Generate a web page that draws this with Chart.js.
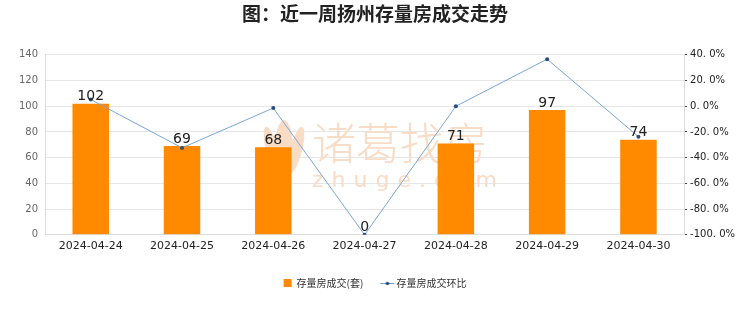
<!DOCTYPE html>
<html>
<head>
<meta charset="utf-8">
<script src="https://cdn.jsdelivr.net/npm/chart.js@4/dist/chart.umd.min.js"></script>
<style>
  html, body { margin: 0; padding: 0; background: #fff; }
  #wrap { width: 740px; height: 312px; position: relative; }
</style>
</head>
<body>
<div id="wrap"><canvas id="c" width="740" height="312"></canvas></div>
<script>
// 数据
const dates = ['2024-04-24', '2024-04-25', '2024-04-26', '2024-04-27', '2024-04-28', '2024-04-29', '2024-04-30'];
const deals = [102, 69, 68, 0, 71, 97, 74];
const dealRatio = [5.2, -32.4, -1.4, -100, 0, 36.6, -23.7];
const leftTicks = [0, 20, 40, 60, 80, 100, 120, 140];
const rightTicks = [-100, -80, -60, -40, -20, 0, 20, 40];

const FONT = 'DejaVu Sans';
const CJK = '"Noto Sans CJK SC"';
const WM = '#f9dcc6';

// 图例用的线+点图标
function lineIcon() {
  const cv = document.createElement('canvas');
  cv.width = 16; cv.height = 8;
  const g = cv.getContext('2d');
  g.strokeStyle = '#6f9fd8';
  g.lineWidth = 1;
  g.beginPath(); g.moveTo(1, 4.5); g.lineTo(15, 4.5); g.stroke();
  g.fillStyle = '#2c4d7a';
  g.beginPath(); g.arc(8, 4.5, 1.8, 0, Math.PI * 2); g.fill();
  return cv;
}

// 水印
const watermark = {
  id: 'watermark',
  beforeDatasetsDraw(chart) {
    const ctx = chart.ctx;
    ctx.save();
    ctx.fillStyle = WM;
    // 莲花标志（大部分被柱子遮住）
    [[284, 148, 9, 28, 0], [296, 150, 6, 24, 0.25], [272, 150, 6, 24, -0.25]].forEach(p => {
      ctx.beginPath();
      ctx.ellipse(p[0], p[1], p[2], p[3], p[4], 0, Math.PI * 2);
      ctx.fill();
    });
    ctx.textAlign = 'left';
    ctx.textBaseline = 'middle';
    ctx.font = '300 44px ' + CJK;
    ctx.fillText('诸葛找房', 312, 143);
    ctx.font = '22px ' + FONT;
    ctx.letterSpacing = '8px';
    ctx.fillText('zhuge.com', 312, 181);
    ctx.restore();
  }
};

// 柱顶数值
const barLabels = {
  id: 'barLabels',
  afterDatasetsDraw(chart) {
    const ctx = chart.ctx;
    const meta = chart.getDatasetMeta(1);
    ctx.save();
    ctx.fillStyle = '#222';
    ctx.font = '14px ' + FONT;
    ctx.textAlign = 'center';
    ctx.textBaseline = 'bottom';
    meta.data.forEach((bar, i) => {
      ctx.fillText(String(deals[i]), bar.x, bar.y);
    });
    ctx.restore();
  }
};

const ctx = document.getElementById('c').getContext('2d');
new Chart(ctx, {
  data: {
    labels: dates,
    datasets: [
      {
        type: 'line',
        label: '存量房成交环比',
        data: dealRatio,
        yAxisID: 'y1',
        borderColor: '#7aa6d8',
        borderWidth: 1,
        pointRadius: 2,
        pointBackgroundColor: '#2c4d7a',
        pointBorderColor: '#2c4d7a',
        pointBorderWidth: 0,
        tension: 0,
        order: 0
      },
      {
        type: 'bar',
        label: '存量房成交(套)',
        data: deals,
        yAxisID: 'y',
        backgroundColor: '#ff8a00',
        barPercentage: 0.4,
        categoryPercentage: 1,
        order: 1
      }
    ]
  },
  options: {
    responsive: false,
    animation: false,
    layout: { padding: { left: 12, right: 2, top: 0, bottom: 14 } },
    plugins: {
      title: {
        display: true,
        text: '图：近一周扬州存量房成交走势',
        color: '#222',
        font: { family: CJK, size: 19, weight: 'bold' },
        padding: { top: 2, bottom: 30 }
      },
      legend: {
        position: 'bottom',
        labels: {
          usePointStyle: true,
          boxWidth: 8,
          boxHeight: 8,
          padding: 20,
          color: '#333',
          font: { family: CJK, size: 10 },
          generateLabels(chart) {
            const items = Chart.defaults.plugins.legend.labels.generateLabels(chart);
            items.forEach(it => {
              if (it.datasetIndex === 0) {
                it.pointStyle = lineIcon();
              } else {
                it.pointStyle = 'rect';
                it.fillStyle = '#ff8a00';
                it.strokeStyle = '#ff8a00';
              }
            });
            return items.reverse();
          }
        }
      },
      tooltip: { enabled: false }
    },
    scales: {
      x: {
        grid: { display: false, drawTicks: false },
        border: { color: '#ddd' },
        ticks: { color: '#222', font: { family: FONT, size: 11 }, padding: 5 }
      },
      y: {
        position: 'left',
        min: 0, max: 140,
        afterBuildTicks(axis) { axis.ticks = leftTicks.map(v => ({ value: v })); },
        grid: { color: '#e6e6e6', drawTicks: false },
        border: { color: '#ddd' },
        ticks: { color: '#666', font: { family: FONT, size: 10 }, padding: 7 }
      },
      y1: {
        position: 'right',
        min: -100, max: 40,
        ticks: {
          stepSize: 10,
          color: '#222',
          font: { family: FONT, size: 10 },
          padding: 3,
          callback(v) {
            return rightTicks.includes(v) ? v.toFixed(0) + '. 0%' : '';
          }
        },
        grid: { drawOnChartArea: false, color: '#444', tickLength: 3 },
        border: { color: '#ddd' }
      }
    }
  },
  plugins: [watermark, barLabels]
});
</script>
</body>
</html>
